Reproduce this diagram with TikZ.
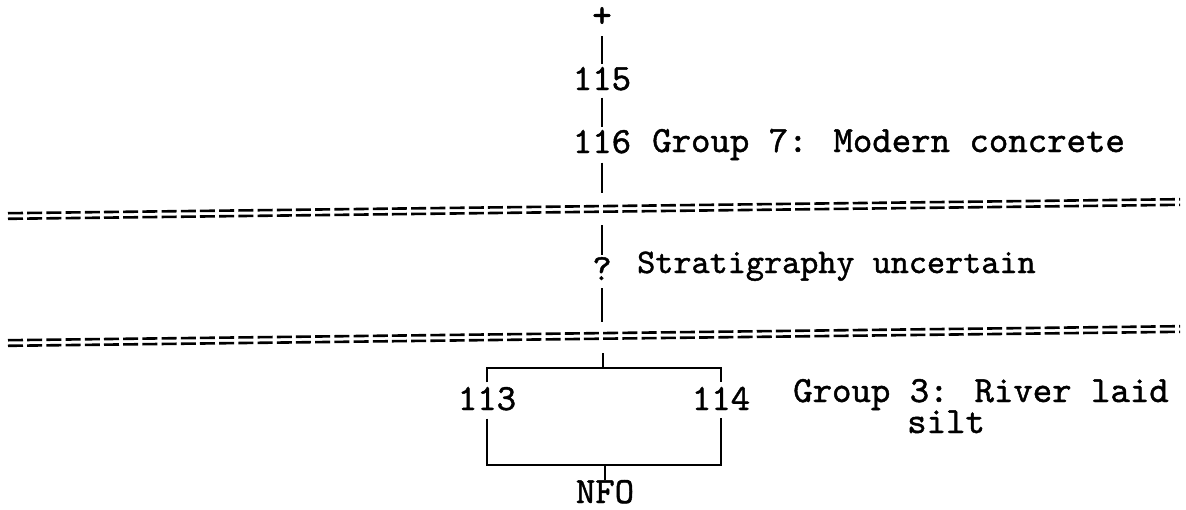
\documentclass[tikz,border=0pt]{standalone}
\usepackage{fontspec}
\newfontfamily\typ{lmmono10-regular}[Extension=.otf, FakeBold=1.2]
\begin{document}
\begin{tikzpicture}[x=1pt,y=-1pt,
  lbl/.style={font=\fontsize{37}{40}\selectfont\typ, inner sep=0pt, anchor=base},
  txt/.style={font=\fontsize{37}{40}\selectfont\typ, inner sep=0pt, anchor=base west},
  lk/.style={line width=2.4pt},
  sepl/.style={line width=2.6pt, dash pattern=on 15pt off 4.2pt}]
\useasboundingbox (0,0) rectangle (1186,509);
% nodes
\node[font=\fontsize{37}{40}\selectfont\typ, inner sep=0pt] (plus) at (602,17) {+};
\node[lbl] (n115) at (602,90) {115};
\node[lbl] (n116) at (602,153) {116};
\node[txt] (g7) at (652,152) {Group 7: Modern concrete};
\node[lbl] (q) at (602,280) {?};
\node[txt, font=\fontsize{34.5}{38}\selectfont\typ] (strat) at (637,273) {Stratigraphy uncertain};
\node[lbl] (n113) at (487,410) {113};
\node[lbl] (n114) at (721,410) {114};
\node[txt] (g3) at (793,402) {Group 3: River laid};
\node[txt] (silt) at (907,433) {silt};
\node[lbl] (nfo) at (605,503) {NFO};
% coordinates for free ends
\coordinate (s1a) at (602,193);
\coordinate (s1b) at (602,225);
\coordinate (s2a) at (602,322);
\coordinate (s2b) at (603,353);
\coordinate (bt) at (603,368);
\coordinate (bb) at (605,465);
% separators (rows of "=")
\draw[sepl] (8,213.2) -- (1180,199.2);
\draw[sepl] (8,218.8) -- (1180,204.8);
\draw[sepl] (8,340.2) -- (1180,326.2);
\draw[sepl] (8,345.8) -- (1180,331.8);
% connectors
\draw[lk, shorten <=9pt, shorten >=3pt] (plus.south) -- (n115.north);
\draw[lk, shorten <=7pt, shorten >=3pt] (n115.south) -- (n116.north);
\draw[lk, shorten <=9pt] (n116.south) -- (s1a);
\draw[lk, shorten >=2pt] (s1b) -- (q.north);
\draw[lk, shorten <=8pt] (q.south) -- (s2a);
\draw[lk] (s2b) -- (bt);
\draw[lk] ([yshift=4.5pt]n113.north) |- (bt) -| ([yshift=4.5pt]n114.north);
\draw[lk] ([yshift=-8pt]n113.south) |- (bb) -| ([yshift=-8pt]n114.south);
\draw[lk] (bb) -- (nfo.north);
\end{tikzpicture}
\end{document}
